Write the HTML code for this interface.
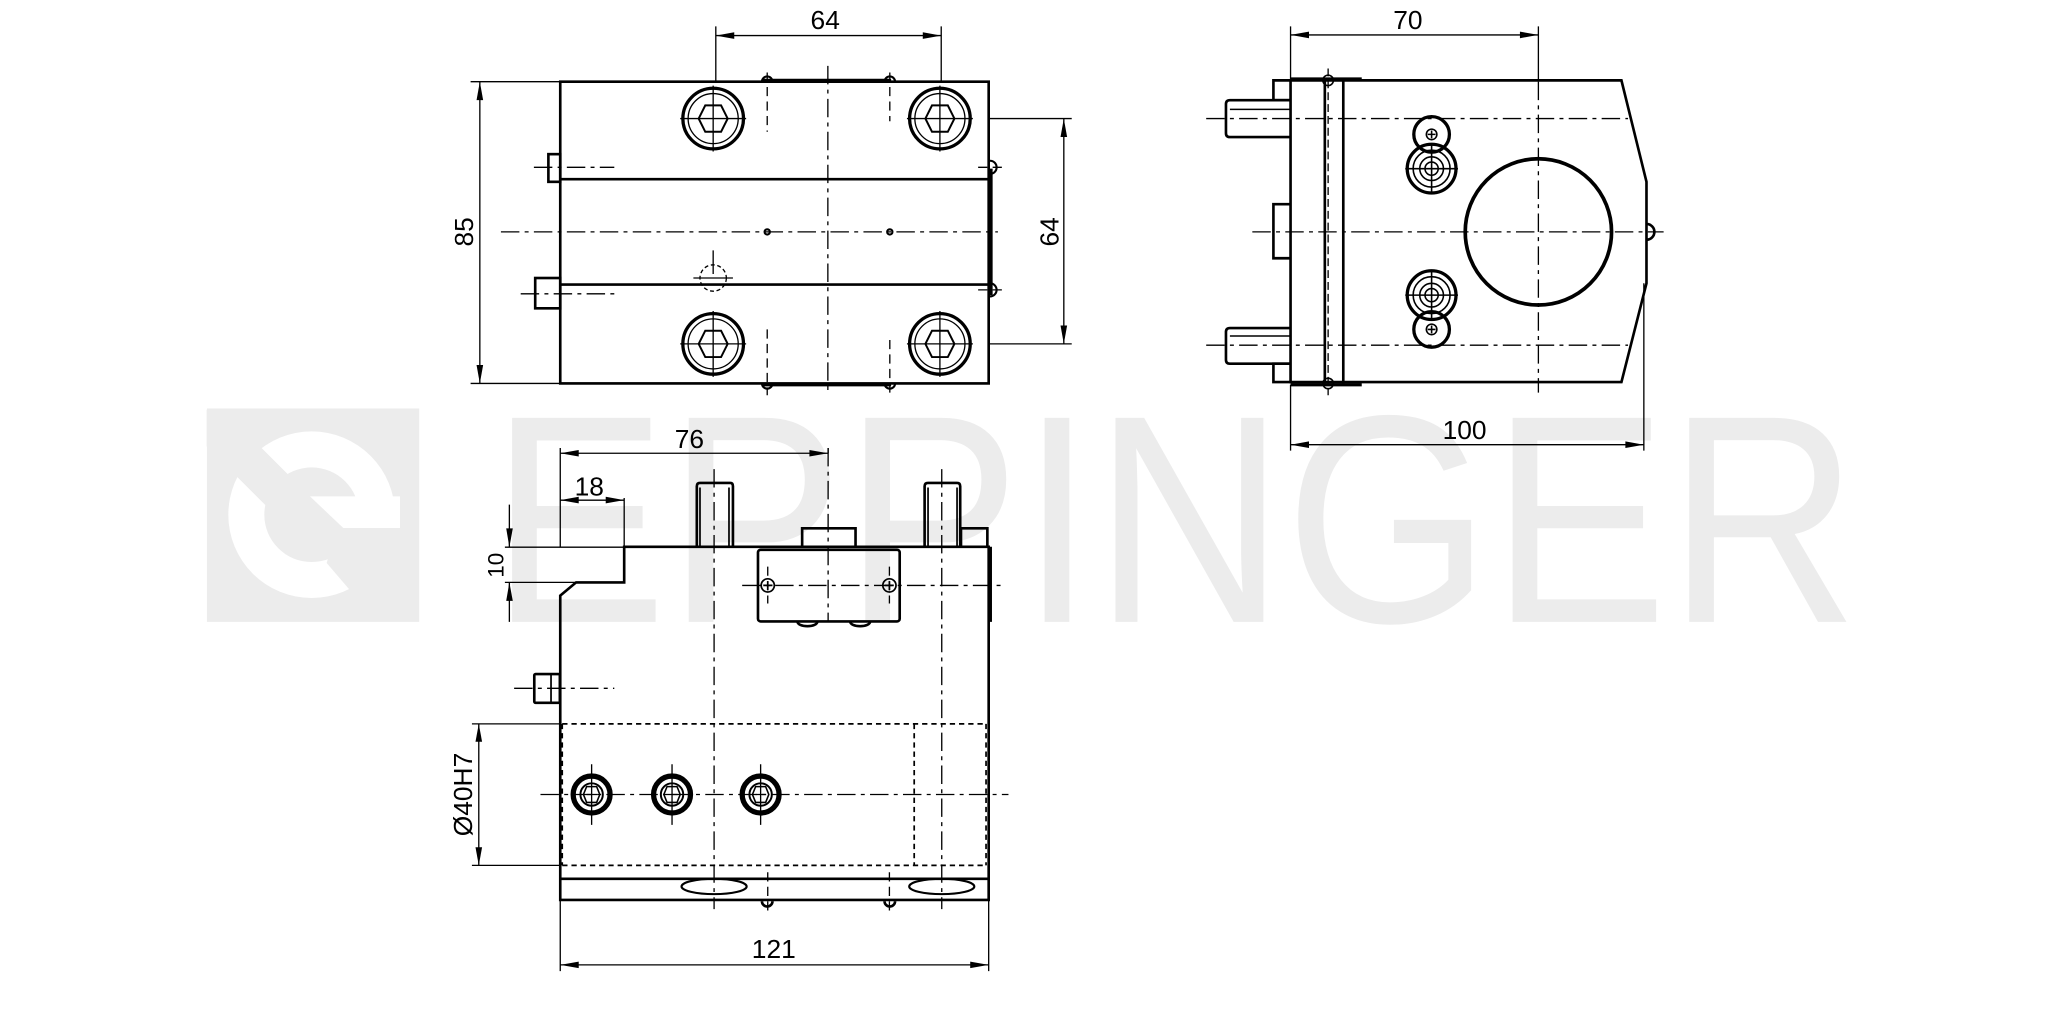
<!DOCTYPE html>
<html><head><meta charset="utf-8"><style>html,body{margin:0;padding:0;background:#fff}svg{display:block}</style></head><body>
<svg width="2067" height="1033" viewBox="0 0 1568 784" preserveAspectRatio="none" xmlns="http://www.w3.org/2000/svg" font-family="Liberation Sans, sans-serif">
<defs><clipPath id="sq"><rect x="20" y="30" width="635" height="630"/></clipPath></defs>
<rect width="1568" height="784" fill="#fff"/>
<!-- watermark -->
<g fill="#ececec">
<rect x="157" y="310" width="161" height="162"/>
<text x="372" y="472" font-size="225" textLength="1038" lengthAdjust="spacingAndGlyphs">EPPINGER</text>
</g>
<g transform="translate(151.7,303.4) scale(0.2529)" clip-path="url(#sq)">
<circle cx="335" cy="345" r="250" fill="#fff"/>
<circle cx="335" cy="345" r="142" fill="#ececec"/>
<polygon points="330,290 600,290 600,385 430,385" fill="#fff"/>
<polygon points="0,-40 330,290 200,320 -50,70" fill="#ececec"/>
<polygon points="430,385 700,385 700,700 560,700 380,490 400,420" fill="#ececec"/>
</g>

<g fill="none" stroke="#000" stroke-width="1">
<!-- ===== TOP VIEW ===== -->
<g stroke-width="2">
<rect x="425" y="62" width="325" height="229"/>
<line x1="425" y1="136" x2="750" y2="136"/>
<line x1="425" y1="216" x2="750" y2="216"/>
<line x1="578" y1="61" x2="676" y2="61" stroke-width="2.5"/>
<line x1="578" y1="292" x2="676" y2="292" stroke-width="2.5"/>
<line x1="752" y1="128" x2="752" y2="224"/>
<rect x="416" y="117" width="9" height="21"/>
<rect x="406" y="211" width="19" height="23"/>
</g>
<g stroke-width="1.6">
<path d="M578 62 a4 4 0 0 1 8 0 M671 62 a4 4 0 0 1 8 0 M578 291 a4 4 0 0 0 8 0 M671 291 a4 4 0 0 0 8 0"/>
<path d="M751 122 a5 5 0 0 1 0 10 M751 215 a5 5 0 0 1 0 10"/>
<circle cx="582" cy="176" r="2"/><circle cx="675" cy="176" r="2"/>
</g>
<g id="bolt">
<circle cx="541" cy="90" r="23" stroke-width="2.5"/>
<circle cx="541" cy="90" r="19" stroke-width="1"/>
<polygon points="535,80 547,80 552,90 547,100 535,100 530,90" stroke-width="1.5"/>
<path d="M538 90 h6 M541 87 v6 M516 90 h50 M541 65 v50"/>
</g>
<use href="#bolt" x="172"/>
<use href="#bolt" y="171"/>
<use href="#bolt" x="172" y="171"/>
<circle cx="541" cy="211" r="10" stroke-dasharray="3 2"/>
<path d="M526 211 h30 M541 190 v18"/>
<g stroke-dasharray="14 4 3 4">
<line x1="628" y1="50" x2="628" y2="300"/>
<line x1="380" y1="176" x2="757" y2="176"/>
<line x1="405" y1="127" x2="466" y2="127"/>
<line x1="395" y1="223" x2="466" y2="223"/>
</g>
<g stroke-dasharray="7 4">
<line x1="582" y1="55" x2="582" y2="100"/><line x1="675" y1="55" x2="675" y2="92"/>
<line x1="582" y1="250" x2="582" y2="300"/><line x1="675" y1="258" x2="675" y2="300"/>
<line x1="742" y1="127" x2="760" y2="127"/><line x1="742" y1="220" x2="760" y2="220"/>
</g>
<path d="M543 20 V62 M714 20 V62 M543 27 H714"/>
<path d="M357 62 H425 M357 291 H425 M364 62 V291"/>
<path d="M750 90 H813 M750 261 H813 M807 90 V261"/>

<!-- ===== SIDE VIEW ===== -->
<g stroke-width="2">
<path d="M979 61 H1230 L1249 138 V215 L1230 290 H979 Z"/>
<line x1="1005" y1="61" x2="1005" y2="291"/>
<line x1="1019" y1="61" x2="1019" y2="291"/>
<line x1="979" y1="60" x2="1033" y2="60" stroke-width="2.5"/>
<line x1="979" y1="292" x2="1033" y2="292" stroke-width="2.5"/>
<path d="M979 61 H966 V76 H979 M979 155 H966 V196 H979 M979 276 H966 V290 H979"/>
<path d="M979 76 H933 Q930 76 930 79 V101 Q930 104 933 104 H979"/>
<path d="M979 249 H933 Q930 249 930 252 V273 Q930 276 933 276 H979"/>
<circle cx="1167" cy="176" r="55.5" stroke-width="2.8"/>
<circle cx="1086" cy="102" r="13.5" stroke-width="2.5"/>
<circle cx="1086" cy="128" r="18.5" stroke-width="2.5"/>
<circle cx="1086" cy="224" r="18.5" stroke-width="2.5"/>
<circle cx="1086" cy="250" r="13.5" stroke-width="2.5"/>
<path d="M1249 170 a5 5 0 0 1 0 12"/>
</g>
<g stroke-width="1.2">
<line x1="933" y1="83" x2="979" y2="83"/><line x1="933" y1="255" x2="979" y2="255"/>
<circle cx="1086" cy="128" r="14"/><circle cx="1086" cy="128" r="9"/><circle cx="1086" cy="128" r="5"/>
<circle cx="1086" cy="224" r="14"/><circle cx="1086" cy="224" r="9"/><circle cx="1086" cy="224" r="5"/>
<circle cx="1086" cy="102" r="4"/><circle cx="1086" cy="250" r="4"/>
<path d="M1066 128 h40 M1086 110 v36 M1066 224 h40 M1086 206 v36 M1083 102 h6 M1086 99 v6 M1083 250 h6 M1086 247 v6 M1083 128 h6 M1086 125 v6 M1083 224 h6 M1086 221 v6"/>
<circle cx="1007.5" cy="61" r="4"/><circle cx="1007.5" cy="291" r="4"/>
</g>
<g stroke-dasharray="14 4 3 4">
<line x1="915" y1="90" x2="1235" y2="90"/>
<line x1="915" y1="262" x2="1235" y2="262"/>
<line x1="950" y1="176" x2="1262" y2="176"/>
<line x1="1167" y1="62" x2="1167" y2="298"/>
</g>
<line x1="1007.5" y1="52" x2="1007.5" y2="300" stroke-dasharray="6 3"/>
<path d="M979 20 V60 M1167 20 V62 M979 26.5 H1167"/>
<path d="M979 292 V342 M1247 215 V342 M979 337.5 H1247"/>

<!-- ===== FRONT VIEW ===== -->
<g stroke-width="2">
<path d="M425 683 V452 L437 442 H473.5 V415 H750 V683 Z"/>
<line x1="425" y1="667" x2="750" y2="667"/>
<path d="M528.6 415 V369 Q528.6 366.5 531 366.5 H554 Q556 366.5 556 369 V415"/>
<path d="M701.4 415 V369 Q701.4 366.5 704 366.5 H726 Q728.4 366.5 728.4 369 V415"/>
<path d="M729 415 V401 H749 V415"/>
<path d="M608.5 415 V401 H649 V415"/>
<rect x="575" y="417.3" width="107.5" height="54.3" rx="2"/>
<line x1="751.5" y1="415" x2="751.5" y2="472"/>
<rect x="405.3" y="511.6" width="19.4" height="21.8" rx="1"/>
<path d="M605 472 a7 3 0 0 0 15 0 M645 472 a7 3 0 0 0 15 0"/>
<ellipse cx="541.7" cy="672.8" rx="24.7" ry="5.8" stroke-width="1.6"/>
<ellipse cx="714.4" cy="672.8" rx="24.7" ry="5.8" stroke-width="1.6"/>
<path d="M578 684 a4 4 0 0 0 8 0 M671 684 a4 4 0 0 0 8 0"/>
</g>
<g stroke-width="1.3">
<line x1="531" y1="370" x2="531" y2="415"/><line x1="553" y1="370" x2="553" y2="415"/>
<line x1="704" y1="370" x2="704" y2="415"/><line x1="726" y1="370" x2="726" y2="415"/>
<line x1="418" y1="512" x2="418" y2="533"/>
<circle cx="582.4" cy="444.3" r="5"/><circle cx="674.7" cy="444.3" r="5"/>
<path d="M579 444.3 h7 M582.4 441 v7 M671 444.3 h7 M674.7 441 v7"/>
</g>
<g id="port">
<circle cx="448.8" cy="603" r="14" stroke-width="4"/>
<circle cx="448.8" cy="603" r="8.5" stroke-width="1.5"/>
<polygon points="445,597 452.6,597 455,603 452.6,609 445,609 442.6,603" stroke-width="1.2"/>
<path d="M445 603 h8 M448.8 599 v8 M448.8 580 v46"/>
</g>
<use href="#port" x="61"/>
<use href="#port" x="128.2"/>
<g stroke-dasharray="4 3" stroke-width="1.3">
<path d="M426.5 549.4 H748 M426.5 656.8 H748 M426.5 549.4 V656.8 M748 549.4 V656.8 M693.5 549.4 V656.8"/>
</g>
<g stroke-dasharray="14 4 3 4">
<line x1="541.7" y1="356" x2="541.7" y2="690"/>
<line x1="628.2" y1="340" x2="628.2" y2="472"/>
<line x1="714.4" y1="356" x2="714.4" y2="690"/>
<line x1="410" y1="603" x2="765" y2="603"/>
<line x1="390" y1="522.4" x2="466" y2="522.4"/>
<line x1="563" y1="444.3" x2="760" y2="444.3"/>
</g>
<g stroke-dasharray="7 4">
<line x1="582.4" y1="430" x2="582.4" y2="458"/><line x1="674.7" y1="430" x2="674.7" y2="458"/>
<line x1="582.4" y1="662" x2="582.4" y2="692"/><line x1="674.7" y1="662" x2="674.7" y2="692"/>
</g>
<path d="M425 340 V415 M628.2 340 V344 M425 344 H628.2"/>
<path d="M473.5 378 V415 M425 379.6 H473.5"/>
<path d="M383 415.3 H473.5 M383 442 H437 M386.4 383 V415.3 M386.4 442 V472"/>
<path d="M358 549.4 H425 M358 656.8 H425 M363.2 549.4 V656.8"/>
<path d="M425 683 V737 M750 683 V737 M425 732.3 H750"/>
</g>

<g fill="#000">
<polygon points="543,27 557,24.5 557,29.5"/><polygon points="714,27 700,24.5 700,29.5"/>
<polygon points="364,62 361.5,76 366.5,76"/><polygon points="364,291 361.5,277 366.5,277"/>
<polygon points="807,90 804.5,104 809.5,104"/><polygon points="807,261 804.5,247 809.5,247"/>
<polygon points="979,26.5 993,24 993,29"/><polygon points="1167,26.5 1153,24 1153,29"/>
<polygon points="979,337.5 993,335 993,340"/><polygon points="1247,337.5 1233,335 1233,340"/>
<polygon points="425,344 439,341.5 439,346.5"/><polygon points="628.2,344 614,341.5 614,346.5"/>
<polygon points="425,379.6 439,377 439,382"/><polygon points="473.5,379.6 459.5,377 459.5,382"/>
<polygon points="386.4,415.3 384,401 389,401"/><polygon points="386.4,442 384,456 389,456"/>
<polygon points="363.2,549.4 360.7,563 365.7,563"/><polygon points="363.2,656.8 360.7,643 365.7,643"/>
<polygon points="425,732.3 439,729.8 439,734.8"/><polygon points="750,732.3 736,729.8 736,734.8"/>
</g>
<g font-size="20" fill="#000" text-anchor="middle">
<text x="626" y="22">64</text>
<text x="1068" y="22">70</text>
<text x="1111" y="333">100</text>
<text x="523" y="340">76</text>
<text x="447" y="376">18</text>
<text x="587" y="727">121</text>
<text transform="translate(359,176) rotate(-90)">85</text>
<text transform="translate(803,176) rotate(-90)">64</text>
<text transform="translate(382,429) rotate(-90)" font-size="17">10</text>
<text transform="translate(358,603) rotate(-90)">Ø40H7</text>
</g>
</svg>
</body></html>
